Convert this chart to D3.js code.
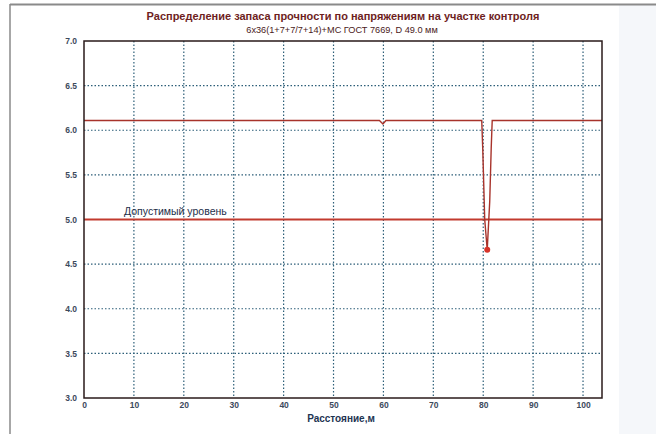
<!DOCTYPE html>
<html>
<head>
<meta charset="utf-8">
<script src="https://cdn.jsdelivr.net/npm/d3@7"></script>
<style>
  body { margin: 0; background: #fff; }
  svg { display: block; font-family: "Liberation Sans", Arial, sans-serif; }
</style>
</head>
<body>
<svg id="chart"></svg>
<script>
// Chart data
const titleLines = [
  'Распределение запаса прочности по напряжениям на участке контроля',
  '6x36(1+7+7/7+14)+МС ГОСТ 7669, D 49.0 мм'
];
const distance = [0, 59.2, 59.9, 60.5, 65, 79.7, 79.9, 80.3, 80.8, 81.3, 81.6, 81.8, 103.8];
const reserve  = [6.11, 6.11, 6.07, 6.11, 6.11, 6.11, 5.8, 5.0, 4.66, 5.2, 5.8, 6.11, 6.11];
const minPoint = [80.8, 4.66];
const allowedLevel = 5.0;
const allowedLabel = 'Допустимый уровень';
const xTicks = [0, 10, 20, 30, 40, 50, 60, 70, 80, 90, 100];
const yTicks = [3.0, 3.5, 4.0, 4.5, 5.0, 5.5, 6.0, 6.5, 7.0];
const xTitle = 'Расстояние,м';

const width = 656, height = 434;
const svg = d3.select('#chart').attr('width', width).attr('height', height);

// outer frame of the original window
svg.append('rect').attr('x', 0).attr('y', 0).attr('width', width).attr('height', height).attr('fill', '#fff');
svg.append('rect').attr('x', 619).attr('y', 5).attr('width', width - 619).attr('height', height).attr('fill', '#f5f7fa');
svg.append('line').attr('x1', 10).attr('x2', width).attr('y1', 4.5).attr('y2', 4.5).attr('stroke', '#8a8a8a').attr('stroke-width', 2);
svg.append('line').attr('x1', 10).attr('x2', 10).attr('y1', 4).attr('y2', height).attr('stroke', '#8a8a8a').attr('stroke-width', 1.5);

const x = d3.scaleLinear().domain([0, 103.8]).range([84, 602]);
const y = d3.scaleLinear().domain([3, 7]).range([398, 41]);

// grid
svg.append('g').selectAll('line')
  .data(xTicks.filter(d => d > 0))
  .enter().append('line')
  .attr('x1', d => x(d)).attr('x2', d => x(d))
  .attr('y1', y(7)).attr('y2', y(3))
  .attr('stroke', '#2c5e78').attr('stroke-width', 1.2).attr('stroke-dasharray', '1.5,2');
svg.append('g').selectAll('line')
  .data(yTicks.filter(d => d > 3 && d < 7))
  .enter().append('line')
  .attr('x1', x(0)).attr('x2', x(103.8))
  .attr('y1', d => y(d)).attr('y2', d => y(d))
  .attr('stroke', '#2c5e78').attr('stroke-width', 1.2).attr('stroke-dasharray', '1.5,2');

// allowed level
svg.append('line')
  .attr('x1', x(0)).attr('x2', x(103.8))
  .attr('y1', y(allowedLevel)).attr('y2', y(allowedLevel))
  .attr('stroke', '#c23a2e').attr('stroke-width', 2);
svg.append('text')
  .attr('x', 124).attr('y', y(allowedLevel) - 5)
  .attr('font-size', 10.5).attr('fill', '#1d2f4a')
  .text(allowedLabel);

// reserve line
const line = d3.line().x((d, i) => x(distance[i])).y(d => y(d));
svg.append('path')
  .datum(reserve)
  .attr('d', line)
  .attr('fill', 'none').attr('stroke', '#a8332b').attr('stroke-width', 1.4);

svg.append('circle')
  .attr('cx', x(minPoint[0])).attr('cy', y(minPoint[1])).attr('r', 3)
  .attr('fill', '#d6342a');

// plot frame
svg.append('rect')
  .attr('x', x(0)).attr('y', y(7))
  .attr('width', x(103.8) - x(0)).attr('height', y(3) - y(7))
  .attr('fill', 'none').attr('stroke', '#2a1a1a').attr('stroke-width', 1.5);

// axes labels
const xAxis = d3.axisBottom(x).tickValues(xTicks).tickSize(0).tickPadding(4).tickFormat(d3.format('d'));
svg.append('g').attr('transform', `translate(0,${y(3)})`).call(xAxis)
  .call(g => g.select('.domain').remove())
  .selectAll('text').attr('font-size', 8.5).attr('font-weight', 'bold').attr('fill', '#3c4a5c')
  .attr('font-family', '"Liberation Sans", Arial, sans-serif');

const yAxis = d3.axisLeft(y).tickValues(yTicks).tickSize(0).tickPadding(7).tickFormat(d3.format('.1f'));
svg.append('g').attr('transform', `translate(${x(0)},0)`).call(yAxis)
  .call(g => g.select('.domain').remove())
  .selectAll('text').attr('font-size', 8.5).attr('font-weight', 'bold').attr('fill', '#3c4a5c')
  .attr('font-family', '"Liberation Sans", Arial, sans-serif');

svg.append('text')
  .attr('x', 341).attr('y', 422).attr('text-anchor', 'middle')
  .attr('font-size', 10).attr('font-weight', 'bold').attr('fill', '#1d3452')
  .text(xTitle);

// titles
svg.append('text')
  .attr('x', 343).attr('y', 20).attr('text-anchor', 'middle')
  .attr('font-size', 11).attr('font-weight', 'bold').attr('fill', '#6e1e1e')
  .text(titleLines[0]);
svg.append('text')
  .attr('x', 342).attr('y', 33).attr('text-anchor', 'middle')
  .attr('font-size', 9.2).attr('fill', '#4a1a1a')
  .text(titleLines[1]);
</script>
</body>
</html>
